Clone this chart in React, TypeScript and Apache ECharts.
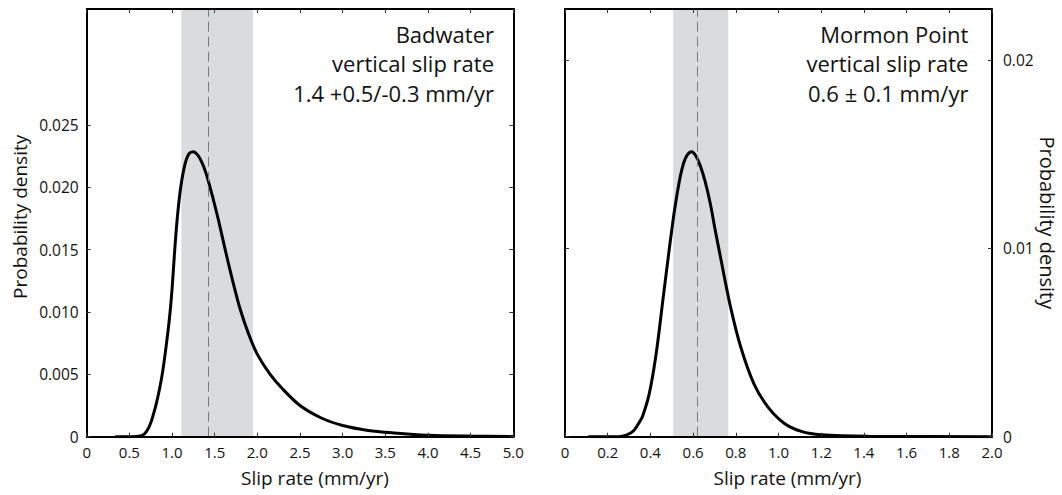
import React, { useEffect, useRef } from "react";
import * as echarts from "echarts";

// Badwater probability density curve: [slip rate (mm/yr), density]
const badwaterCurve: [number, number][] = [
  [0.335, 0], [0.55, 0], [0.65, 0.0001], [0.7, 0.0004], [0.75, 0.0011],
  [0.81, 0.0025], [0.85, 0.0037], [0.89, 0.0052], [0.93, 0.0072], [0.97, 0.0095],
  [1.0, 0.0118], [1.03, 0.0148], [1.06, 0.0174], [1.1, 0.0199], [1.15, 0.0218],
  [1.2, 0.0227], [1.25, 0.02286], [1.3, 0.0226], [1.35, 0.022], [1.4, 0.0211],
  [1.45, 0.0199], [1.5, 0.0186], [1.55, 0.0172], [1.62, 0.0151], [1.7, 0.0128],
  [1.8, 0.0102], [1.9, 0.0082], [2.0, 0.0066], [2.15, 0.005], [2.3, 0.0038],
  [2.5, 0.0025], [2.75, 0.0015], [3.0, 0.0009], [3.3, 0.0005], [3.6, 0.0003],
  [4.0, 0.00012], [4.5, 0.00005], [5.0, 0.00002],
];

// Mormon Point probability density curve
const mormonCurve: [number, number][] = [
  [0.11, 0], [0.25, 0], [0.29, 0.0001], [0.32, 0.0003], [0.35, 0.0008],
  [0.364, 0.0011], [0.395, 0.0023], [0.427, 0.0044], [0.459, 0.0073], [0.49, 0.0101],
  [0.514, 0.0121], [0.538, 0.0137], [0.555, 0.0145], [0.572, 0.01495], [0.593, 0.01512],
  [0.613, 0.0149], [0.633, 0.0144], [0.655, 0.0136], [0.68, 0.0124], [0.703, 0.011],
  [0.727, 0.0096], [0.775, 0.0069], [0.822, 0.0048], [0.885, 0.0028], [0.949, 0.0016],
  [1.028, 0.0007], [1.107, 0.00028], [1.2, 0.0001], [1.42, 0.00002], [2.0, 0],
];

// Shaded ranges and best estimates
const badwaterRange = [1.11, 1.95];
const badwaterBest = 1.42;
const mormonRange = [0.507, 0.765];
const mormonBest = 0.62;

// Axis ticks
const badwaterYTicks = [0, 0.005, 0.01, 0.015, 0.02, 0.025];
const mormonYTicks = [0, 0.01, 0.02];

const badwaterText = ["Badwater", "vertical slip rate", "1.4 +0.5/-0.3 mm/yr"];
const mormonText = ["Mormon Point", "vertical slip rate", "0.6 \u00b1 0.1 mm/yr"];

const FONT = "Open Sans";
const INK = "#111";

export default function App() {
  const ref = useRef<HTMLDivElement>(null);

  useEffect(() => {
    if (!ref.current) return;
    const chart = echarts.init(ref.current, undefined, { renderer: "svg" });

    const axisLine = { show: true, onZero: false, lineStyle: { color: "#000", width: 2 } };
    const axisTick = { show: true, inside: true, length: 4, lineStyle: { color: "#333", width: 1 } };
    const xFmt = (v: number) => (v === 0 ? "0" : v.toFixed(1));

    const xBase = (grid: number, max: number, interval: number) => ({
      type: "value",
      gridIndex: grid,
      min: 0,
      max,
      interval,
      splitLine: { show: false },
      axisLine,
      axisTick,
      z: 5,
    });

    const xName = (pad: number) => ({
      name: "Slip rate (mm/yr)",
      nameLocation: "middle",
      nameGap: 32,
      nameTextStyle: { fontSize: 19, color: INK, fontFamily: FONT, padding: [0, 0, 0, pad] },
    });

    const yBase = (grid: number, max: number, ticks: number[], pos: string) => ({
      type: "value",
      gridIndex: grid,
      min: 0,
      max,
      position: pos,
      splitLine: { show: false },
      axisLine,
      axisTick: { ...axisTick, customValues: ticks },
      z: 5,
    });

    const textLines = (lines: string[], right: number) =>
      lines.map((t, i) => ({
        type: "text",
        right: 1062 - right,
        top: 23 + i * 29.3,
        style: { text: t, fontSize: 22, fontFamily: FONT, fill: INK, textAlign: "right" },
        z: 10,
      }));

    const xLabel = { formatter: xFmt, fontSize: 15, color: INK, margin: 8, fontFamily: FONT };

    const option = {
      animation: false,
      textStyle: { fontFamily: FONT },
      grid: [
        { left: 86.7, top: 9, right: 548.7, bottom: 58.3 },
        { left: 565, top: 9, right: 70, bottom: 58.3 },
      ],
      xAxis: [
        { ...xBase(0, 5, 0.5), position: "bottom", axisLabel: xLabel, ...xName(30) },
        { ...xBase(0, 5, 0.5), position: "top", axisLabel: { show: false } },
        { ...xBase(1, 2, 0.2), position: "bottom", axisLabel: xLabel, ...xName(18) },
        { ...xBase(1, 2, 0.2), position: "top", axisLabel: { show: false } },
      ],
      yAxis: [
        {
          ...yBase(0, 0.0343, badwaterYTicks, "left"),
          axisLabel: {
            customValues: badwaterYTicks,
            formatter: (v: number) => (v === 0 ? "0" : v.toFixed(3)),
            fontSize: 15.5,
            color: INK,
            margin: 8,
            fontFamily: FONT,
          },
          name: "Probability density",
          nameLocation: "middle",
          nameGap: 57,
          nameTextStyle: { fontSize: 19, color: INK, fontFamily: FONT, padding: [0, 0, 0, 12] },
        },
        { ...yBase(0, 0.0343, badwaterYTicks, "right"), axisLabel: { show: false } },
        { ...yBase(1, 0.0227, mormonYTicks, "left"), axisLabel: { show: false } },
        {
          ...yBase(1, 0.0227, mormonYTicks, "right"),
          axisLabel: {
            customValues: mormonYTicks,
            formatter: (v: number) => (v === 0 ? "0" : v.toFixed(2)),
            fontSize: 15.5,
            color: INK,
            margin: 11,
            fontFamily: FONT,
          },
          name: "Probability density",
          nameLocation: "middle",
          nameGap: 42,
          nameRotate: -90,
          nameTextStyle: { fontSize: 20, color: INK, fontFamily: FONT },
        },
      ],
      series: [
        {
          type: "line",
          xAxisIndex: 0,
          yAxisIndex: 0,
          data: badwaterCurve,
          showSymbol: false,
          smooth: 0.3,
          lineStyle: { color: "#000", width: 3 },
          z: 3,
          markArea: {
            silent: true,
            itemStyle: { color: "#dadbdd" },
            data: [[{ xAxis: badwaterRange[0] }, { xAxis: badwaterRange[1] }]],
          },
          markLine: {
            silent: true,
            symbol: "none",
            label: { show: false },
            lineStyle: { color: "#7a7a7a", type: [10, 5], width: 1 },
            data: [{ xAxis: badwaterBest }],
          },
        },
        {
          type: "line",
          xAxisIndex: 2,
          yAxisIndex: 3,
          data: mormonCurve,
          showSymbol: false,
          smooth: 0.3,
          lineStyle: { color: "#000", width: 3 },
          z: 3,
          markArea: {
            silent: true,
            itemStyle: { color: "#dadbdd" },
            data: [[{ xAxis: mormonRange[0] }, { xAxis: mormonRange[1] }]],
          },
          markLine: {
            silent: true,
            symbol: "none",
            label: { show: false },
            lineStyle: { color: "#7a7a7a", type: [10, 5], width: 1 },
            data: [{ xAxis: mormonBest }],
          },
        },
      ],
      graphic: [...textLines(badwaterText, 494), ...textLines(mormonText, 968.4)],
    };

    chart.setOption(option as any);
    return () => chart.dispose();
  }, []);

  return (
    <div
      ref={ref}
      style={{ position: "absolute", left: 0, top: 0, width: 1062, height: 495, background: "#fff" }}
    />
  );
}
